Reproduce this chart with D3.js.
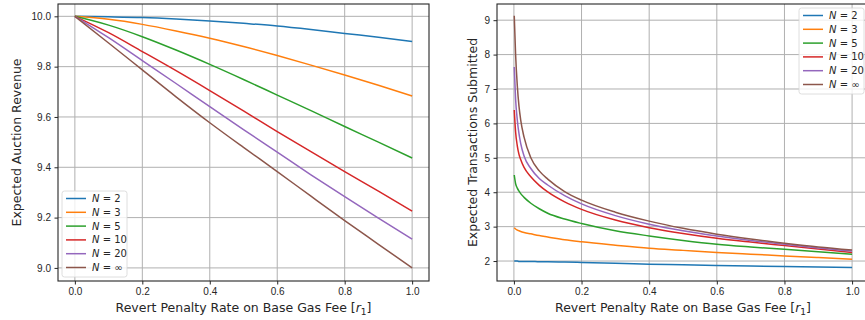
<!DOCTYPE html>
<html lang="en">
<head>
<meta charset="UTF-8">
<title>Revert penalty charts</title>
<style>
    body { margin: 0; background: #fff; }
    svg { font-family: "DejaVu Sans", sans-serif; display: block; }
    .grid line { stroke: #b0b0b0; stroke-width: 1; }
    .tick text { font-size: 10px; fill: #262626; }
    .tick line { stroke: #262626; }
    .axis-label { font-size: 12.5px; fill: #262626; text-anchor: middle; }
    .legend text { font-size: 10px; fill: #262626; }
</style>
</head>
<body>
<svg width="865" height="320" id="chart"></svg>

<script src="https://d3js.org/d3.v7.min.js"></script>
<script>
    // series names + colours
    const labels = ['2', '3', '5', '10', '20', '\u221E'];
    const colors = ['#1f77b4', '#ff7f0e', '#2ca02c', '#d62728', '#9467bd', '#8c564b'];

    // left panel: expected auction revenue
    const rLeft = [0, 0.1, 0.2, 0.3, 0.4, 0.5, 0.6, 0.7, 0.8, 0.9, 1.0];
    const revN2   = [10, 9.998, 9.995, 9.989, 9.981, 9.972, 9.962, 9.948, 9.932, 9.917, 9.900];
    const revN3   = [10, 9.988, 9.968, 9.942, 9.913, 9.880, 9.844, 9.806, 9.767, 9.726, 9.683];
    const revN5   = [10, 9.965, 9.919, 9.866, 9.809, 9.749, 9.687, 9.625, 9.562, 9.500, 9.437];
    const revN10  = [10, 9.935, 9.860, 9.784, 9.705, 9.624, 9.542, 9.462, 9.383, 9.305, 9.226];
    const revN20  = [10, 9.915, 9.824, 9.733, 9.641, 9.550, 9.460, 9.370, 9.283, 9.198, 9.114];
    const revNinf = [10, 9.894, 9.787, 9.680, 9.577, 9.479, 9.383, 9.285, 9.188, 9.094, 9.000];

    // right panel: expected transactions submitted
    const rRight = [0.001, 0.005, 0.01, 0.015, 0.02, 0.03, 0.05, 0.075, 0.1, 0.15, 0.2,
                    0.3, 0.4, 0.5, 0.6, 0.7, 0.8, 0.9, 1.0];
    const txN2   = [2.00, 2.00, 2.00, 1.99, 1.99, 1.99, 1.99, 1.98, 1.98, 1.97, 1.96,
                    1.935, 1.91, 1.89, 1.87, 1.855, 1.84, 1.825, 1.81];
    const txN3   = [2.97, 2.93, 2.90, 2.88, 2.86, 2.83, 2.79, 2.74, 2.70, 2.62, 2.56,
                    2.46, 2.37, 2.31, 2.25, 2.20, 2.15, 2.10, 2.05];
    const txN5   = [4.50, 4.25, 4.12, 4.03, 3.96, 3.85, 3.68, 3.52, 3.39, 3.22, 3.09,
                    2.88, 2.73, 2.60, 2.49, 2.41, 2.34, 2.27, 2.20];
    const txN10  = [6.39, 5.75, 5.35, 5.10, 4.95, 4.72, 4.45, 4.20, 4.01, 3.72, 3.50,
                    3.19, 2.97, 2.80, 2.66, 2.55, 2.45, 2.35, 2.25];
    const txN20  = [7.64, 6.70, 6.10, 5.70, 5.42, 5.05, 4.69, 4.40, 4.21, 3.90, 3.66,
                    3.32, 3.07, 2.88, 2.73, 2.60, 2.49, 2.38, 2.29];
    const txNinf = [9.13, 8.00, 7.10, 6.50, 6.10, 5.60, 5.00, 4.62, 4.38, 4.02, 3.77,
                    3.42, 3.16, 2.95, 2.78, 2.64, 2.52, 2.41, 2.32];

    const xTicks = [0, 0.2, 0.4, 0.6, 0.8, 1.0];
    const yTicksLeft = [9.0, 9.2, 9.4, 9.6, 9.8, 10.0];
    const yTicksRight = [2, 3, 4, 5, 6, 7, 8, 9];

    const svg = d3.select('#chart');

    function panel(opts) {
        const { left, right, top, bottom, xs, series, yDomain, yTicks, yFmt, yLabel, yLabelX, legendPos } = opts;
        const g = svg.append('g');
        const x = d3.scaleLinear().domain([-0.05, 1.05]).range([left, right]);
        const y = d3.scaleLinear().domain(yDomain).range([bottom, top]);

        // grid
        const grid = g.append('g').attr('class', 'grid');
        grid.selectAll('.gx').data(xTicks).enter().append('line')
            .attr('x1', d => x(d)).attr('x2', d => x(d))
            .attr('y1', top).attr('y2', bottom);
        grid.selectAll('.gy').data(yTicks).enter().append('line')
            .attr('x1', left).attr('x2', right)
            .attr('y1', d => y(d)).attr('y2', d => y(d));

        // lines
        const line = d3.line()
            .x((d, i) => x(xs[i]))
            .y(d => y(d))
            .curve(d3.curveMonotoneX);
        g.selectAll('.series').data(series).enter().append('path')
            .attr('fill', 'none')
            .attr('stroke', (d, i) => colors[i])
            .attr('stroke-width', 1.5)
            .attr('d', d => line(d));

        // axes
        g.append('g')
            .attr('transform', `translate(0,${bottom})`)
            .call(d3.axisBottom(x).tickValues(xTicks).tickFormat(d3.format('.1f'))
                .tickSizeOuter(0).tickSize(3.5).tickPadding(3.5))
            .call(a => a.select('.domain').remove());
        g.append('g')
            .attr('transform', `translate(${left},0)`)
            .call(d3.axisLeft(y).tickValues(yTicks).tickFormat(yFmt)
                .tickSizeOuter(0).tickSize(3.5).tickPadding(3.5))
            .call(a => a.select('.domain').remove());

        // frame
        g.append('rect')
            .attr('x', left).attr('y', top)
            .attr('width', right - left).attr('height', bottom - top)
            .attr('fill', 'none').attr('stroke', '#262626').attr('stroke-width', 1.1);

        // axis labels
        g.append('text').attr('class', 'axis-label')
            .attr('x', (left + right) / 2)
            .attr('y', 312)
            .html('Revert Penalty Rate on Base Gas Fee [<tspan font-style="italic">r</tspan><tspan font-size="9px" dy="2.5">1</tspan><tspan dy="-2.5">]</tspan>');
        g.append('text').attr('class', 'axis-label')
            .attr('transform', `translate(${yLabelX},${(top + bottom) / 2}) rotate(-90)`)
            .attr('dy', '0.35em')
            .text(yLabel);

        // legend
        const lg = g.append('g').attr('class', 'legend')
            .attr('transform', `translate(${legendPos[0]},${legendPos[1]})`);
        lg.append('rect')
            .attr('width', 65).attr('height', 86).attr('rx', 2.5)
            .attr('fill', 'white').attr('fill-opacity', 0.8)
            .attr('stroke', '#d6d6d6').attr('stroke-width', 0.8);
        const items = lg.selectAll('.item').data(labels).enter().append('g')
            .attr('transform', (d, i) => `translate(0,${7.5 + i * 13.8})`);
        items.append('line')
            .attr('x1', 4).attr('x2', 24)
            .attr('stroke', (d, i) => colors[i]).attr('stroke-width', 1.5);
        items.append('text')
            .attr('x', 30).attr('dy', '0.35em')
            .html(d => `<tspan font-style="italic">N</tspan> = ${d}`);
    }

    panel({
        left: 58, right: 429, top: 4, bottom: 281,
        xs: rLeft,
        series: [revN2, revN3, revN5, revN10, revN20, revNinf],
        yDomain: [8.948, 10.049],
        yTicks: yTicksLeft,
        yFmt: d3.format('.1f'),
        yLabel: 'Expected Auction Revenue',
        yLabelX: 17,
        legendPos: [62, 191]
    });

    panel({
        left: 497, right: 869, top: 4, bottom: 281,
        xs: rRight,
        series: [txN2, txN3, txN5, txN10, txN20, txNinf],
        yDomain: [1.42, 9.47],
        yTicks: yTicksRight,
        yFmt: d3.format('d'),
        yLabel: 'Expected Transactions Submitted',
        yLabelX: 473,
        legendPos: [799, 8]
    });
</script>
</body>
</html>
